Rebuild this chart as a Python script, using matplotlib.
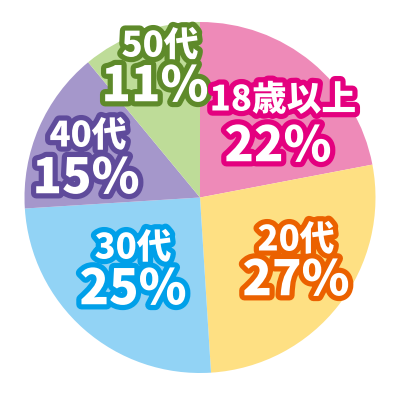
import matplotlib
matplotlib.use("Agg")
import matplotlib.pyplot as plt
import matplotlib.patheffects as pe

plt.rcParams['font.family'] = ['Noto Sans CJK JP', 'DejaVu Sans']

# datos del grafico
categorias = ["18歳以上", "20代", "30代", "40代", "50代"]
valores = [22, 27, 25, 15, 11]
colores = ["#EE8AB8", "#FEE083", "#92D3F5", "#A597CB", "#BEDC98"]
bordes = ["#E4007F", "#EB6100", "#00A0E9", "#5F4B9B", "#5E8A2A"]

# posicion de las etiquetas (pixeles, origen arriba a la izquierda)
pos_etiquetas = [(283, 100), (296, 240), (133, 248), (88, 136), (160, 46)]
pos_porcentaje = [(278, 147), (296, 281), (133, 290), (86, 179), (155, 87)]

fig = plt.figure(figsize=(4, 4), dpi=100)
ax = fig.add_axes([0, 0, 1, 1])

ax.pie(valores, colors=colores, startangle=90, counterclock=False,
       center=(200, 202.5), radius=175.5, frame=True,
       wedgeprops=dict(linewidth=0))
ax.set_xlim(0, 400)
ax.set_ylim(0, 400)
ax.set_aspect('equal')
ax.axis('off')

# se dibuja al reves para que "18歳以上" quede encima
datos = list(zip(categorias, valores, bordes, pos_etiquetas, pos_porcentaje))
for cat, val, borde, (lx, ly), (px, py) in reversed(datos):
    efecto = [pe.Stroke(linewidth=7.5, foreground=borde), pe.Normal()]
    ax.text(lx, 400 - ly, cat, color="white", fontsize=25, fontweight="black",
            ha="center", va="center", path_effects=efecto)
    ax.text(px, 400 - py, f"{val}%", color="white", fontsize=35,
            fontweight="black", ha="center", va="center", path_effects=efecto)

fig.savefig("out.png", dpi=100)
